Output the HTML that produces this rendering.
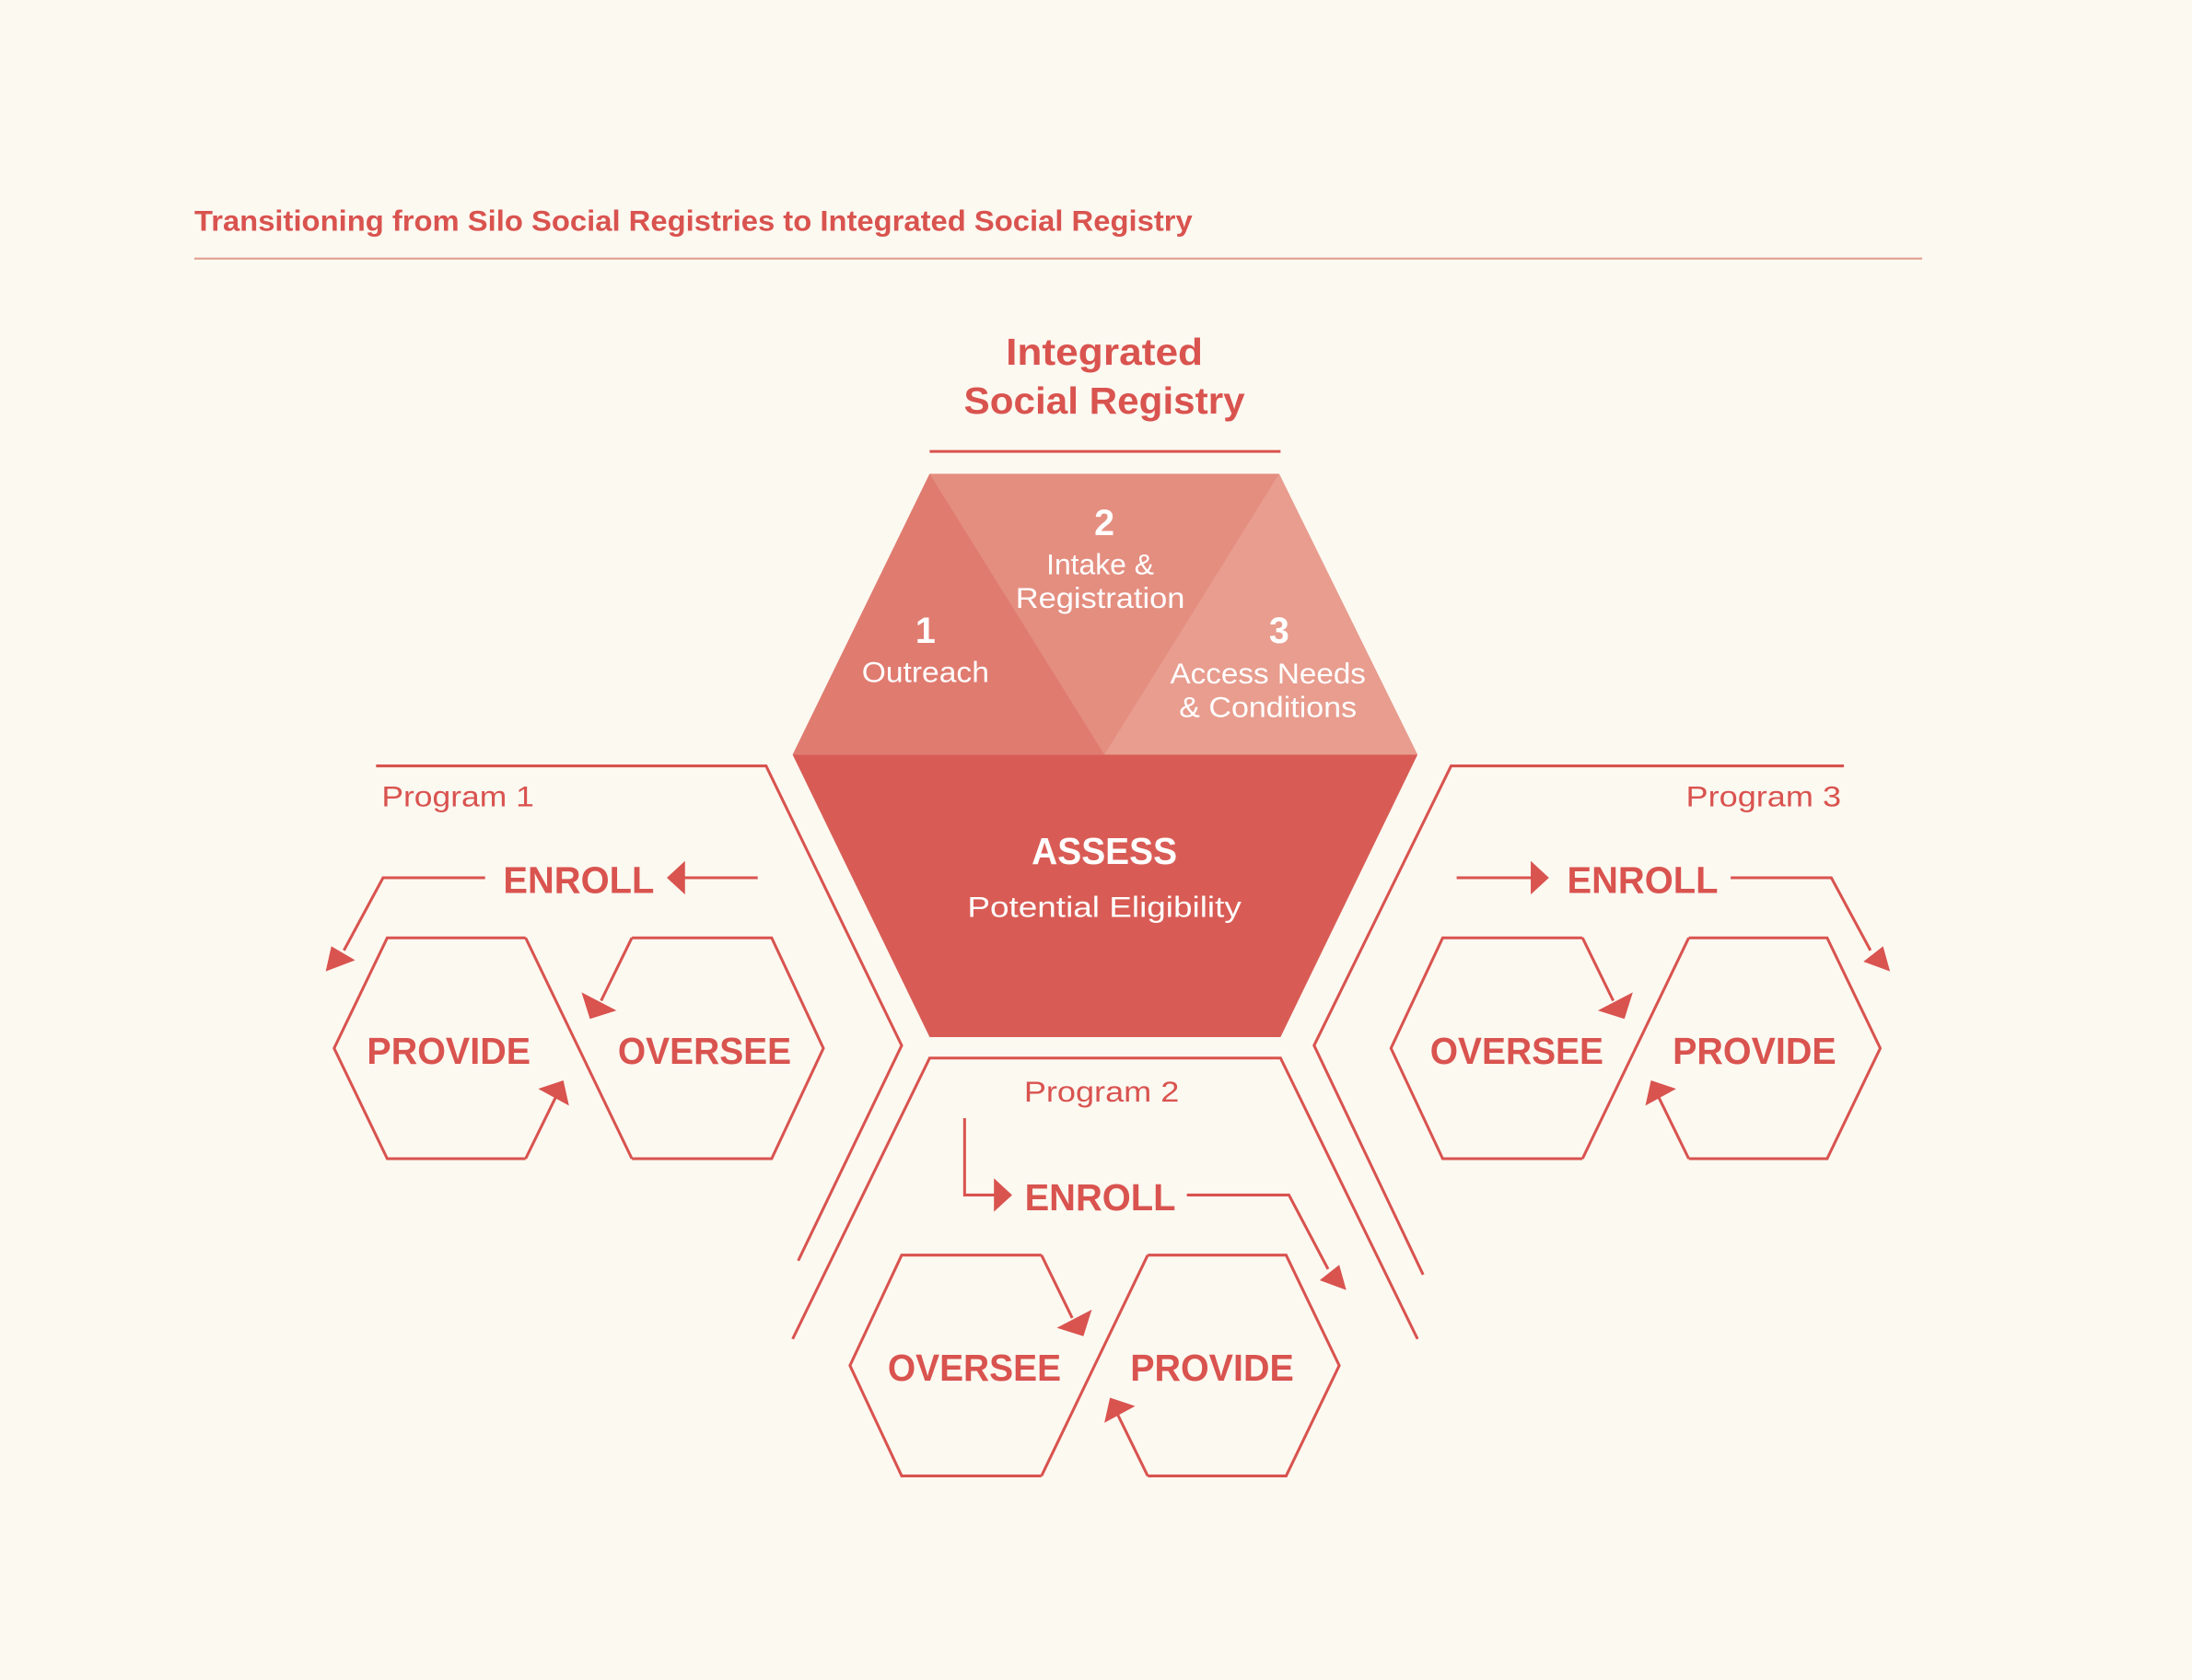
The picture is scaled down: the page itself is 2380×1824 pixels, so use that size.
<!DOCTYPE html>
<html><head><meta charset="utf-8"><style>
html,body{margin:0;padding:0;background:#fcf9f1;}
svg{display:block;}
text{font-family:"Liberation Sans",sans-serif;}
</style></head><body>
<svg width="2380" height="1824" viewBox="0 0 1568 1202" preserveAspectRatio="none" xmlns="http://www.w3.org/2000/svg">
<defs>
<g id="pair">
<g fill="none" stroke="#d9534f" stroke-width="2">
<polyline points="1132,671 1032,671 995,750 1032,829 1132,829"/>
<line x1="1132" y1="829" x2="1208" y2="671"/>
<polyline points="1208,671 1307,671 1345,750 1307,829 1208,829"/>
<line x1="1132" y1="671" x2="1154" y2="716"/>
<line x1="1208" y1="829" x2="1186" y2="784"/>
</g>
<g fill="#d9534f">
<polygon points="1143,723 1168,710 1162,729"/>
<polygon points="1177,791 1181,773 1199,779"/>
</g>
</g>
</defs>
<rect width="1568" height="1202" fill="#fcf9f1"/>
<text x="139" y="165" font-size="21" font-weight="bold" fill="#d9534f" textLength="714" lengthAdjust="spacingAndGlyphs">Transitioning from Silo Social Registries to Integrated Social Registry</text>
<line x1="139" y1="185" x2="1375" y2="185" stroke="#e3a393" stroke-width="1.5"/>

<text x="790" y="261" font-size="27" font-weight="bold" fill="#d9534f" text-anchor="middle" textLength="141" lengthAdjust="spacingAndGlyphs">Integrated</text>
<text x="790" y="296" font-size="27" font-weight="bold" fill="#d9534f" text-anchor="middle" textLength="201" lengthAdjust="spacingAndGlyphs">Social Registry</text>
<line x1="665" y1="323" x2="916" y2="323" stroke="#d9534f" stroke-width="2"/>

<!-- central hex -->
<polygon points="665,339 915,339 1014,540 567,540" fill="#e48e80"/>
<polygon points="665,339 567,540 790,540" fill="#e07b70"/>
<polygon points="915,339 1014,540 790,540" fill="#e89d8f"/>
<polygon points="567,540 1014,540 916,742 665,742" fill="#d85c55"/>

<g fill="#ffffff" text-anchor="middle">
<text x="790" y="383" font-size="26" font-weight="bold">2</text>
<text x="787" y="411" font-size="21">Intake &amp;</text>
<text x="787" y="435" font-size="21" textLength="121" lengthAdjust="spacingAndGlyphs">Registration</text>
<text x="662" y="460" font-size="26" font-weight="bold">1</text>
<text x="662" y="488" font-size="21" textLength="91" lengthAdjust="spacingAndGlyphs">Outreach</text>
<text x="915" y="460" font-size="26" font-weight="bold">3</text>
<text x="907" y="489" font-size="21" textLength="140" lengthAdjust="spacingAndGlyphs">Access Needs</text>
<text x="907" y="513" font-size="21" textLength="127" lengthAdjust="spacingAndGlyphs">&amp; Conditions</text>
<text x="790" y="618" font-size="27" font-weight="bold" textLength="104" lengthAdjust="spacingAndGlyphs">ASSESS</text>
<text x="790" y="656" font-size="21" textLength="196" lengthAdjust="spacingAndGlyphs">Potential Eligibility</text>
</g>

<g fill="none" stroke="#d9534f" stroke-width="2">
<polyline points="269,548 548,548 645,748 571,902"/>
<polyline points="1319,548 1038,548 940,748 1018,912"/>
<polyline points="567,958 665,757 916,757 1014,958"/>
<line x1="542" y1="628" x2="488" y2="628"/>
<polyline points="347,628 274,628 246,680"/>
<polyline points="690,800 690,855 714,855"/>
<polyline points="849,855 922,855 950,908"/>
<line x1="1042" y1="628" x2="1098" y2="628"/>
<polyline points="1238,628 1310,628 1338,680"/>
</g>
<g fill="#d9534f">
<polygon points="477,628 490,616 490,640"/>
<polygon points="233,695 237,677 254,687"/>
<polygon points="724,855 711,843 711,867"/>
<polygon points="963,923 944,916 958,905"/>
<polygon points="1108,628 1095,616 1095,640"/>
<polygon points="1352,695 1333,688 1347,677"/>
</g>

<!-- hex pairs -->
<use href="#pair"/>
<use href="#pair" transform="translate(-387,227)"/>
<use href="#pair" transform="translate(1584,0) scale(-1,1)"/>

<g fill="#d9534f" font-weight="bold" font-size="27" text-anchor="middle">
<text x="414" y="639" textLength="108" lengthAdjust="spacingAndGlyphs">ENROLL</text>
<text x="321" y="761" textLength="117" lengthAdjust="spacingAndGlyphs">PROVIDE</text>
<text x="504" y="761" textLength="124" lengthAdjust="spacingAndGlyphs">OVERSEE</text>
<text x="787" y="866" textLength="108" lengthAdjust="spacingAndGlyphs">ENROLL</text>
<text x="697" y="988" textLength="124" lengthAdjust="spacingAndGlyphs">OVERSEE</text>
<text x="867" y="988" textLength="117" lengthAdjust="spacingAndGlyphs">PROVIDE</text>
<text x="1175" y="639" textLength="108" lengthAdjust="spacingAndGlyphs">ENROLL</text>
<text x="1085" y="761" textLength="124" lengthAdjust="spacingAndGlyphs">OVERSEE</text>
<text x="1255" y="761" textLength="117" lengthAdjust="spacingAndGlyphs">PROVIDE</text>
</g>
<g fill="#d9534f" font-size="21">
<text x="273" y="577" textLength="109" lengthAdjust="spacingAndGlyphs">Program 1</text>
<text x="788" y="788" text-anchor="middle" textLength="111" lengthAdjust="spacingAndGlyphs">Program 2</text>
<text x="1317" y="577" text-anchor="end" textLength="111" lengthAdjust="spacingAndGlyphs">Program 3</text>
</g>
</svg>
</body></html>
